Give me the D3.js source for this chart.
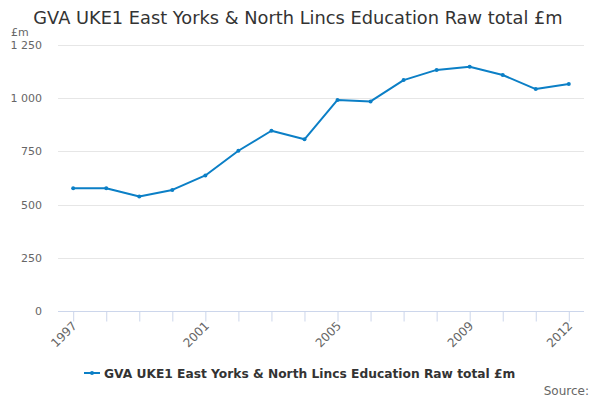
<!DOCTYPE html>
<html>
<head>
<meta charset="utf-8">
<script src="https://cdn.jsdelivr.net/npm/d3@7"></script>
<style>
  body { margin: 0; background: #fff; }
  svg { font-family: "DejaVu Sans", sans-serif; }
</style>
</head>
<body>
<div id="chart"></div>
<script>
// Data
const years = ["1997", "1998", "1999", "2000", "2001", "2002", "2003", "2004",
  "2005", "2006", "2007", "2008", "2009", "2010", "2011", "2012"];
const values = [577, 577, 538, 569, 637, 753, 847, 807,
  992, 985, 1085, 1133, 1148, 1109, 1043, 1067];
const yTicks = [0, 250, 500, 750, 1000, 1250];
const xLabels = ["1997", "2001", "2005", "2009", "2012"];
const seriesName = "GVA UKE1 East Yorks & North Lincs Education Raw total £m";

const width = 600, height = 400;
const colour = "#0b7fc6";

// SVG
const svg = d3.select("#chart")
  .append("svg")
  .attr("width", width)
  .attr("height", height);

// Scales
const x = d3.scalePoint()
  .domain(years)
  .range([58, 584])
  .padding(0.46);

const y = d3.scaleLinear()
  .domain([0, 1250])
  .range([311, 45]);

const fmt = v => d3.format(",")(v).replace(/,/g, " ");

// Title
svg.append("text")
  .attr("x", 298)
  .attr("y", 24)
  .attr("text-anchor", "middle")
  .attr("fill", "#333")
  .attr("font-size", 17.8)
  .text("GVA UKE1 East Yorks & North Lincs Education Raw total £m");

// Y unit label
svg.append("text")
  .attr("x", 11)
  .attr("y", 36)
  .attr("fill", "#666")
  .attr("font-size", 11)
  .text("£m");

// Gridlines
svg.append("g")
  .selectAll("line")
  .data(yTicks.filter(d => d > 0))
  .join("line")
  .attr("x1", 58)
  .attr("x2", 584)
  .attr("y1", d => Math.round(y(d)) + 0.5)
  .attr("y2", d => Math.round(y(d)) + 0.5)
  .attr("stroke", "#e6e6e6");

// Y axis labels
const yAxis = svg.append("g")
  .attr("transform", "translate(42,0)")
  .call(d3.axisLeft(y).tickValues(yTicks).tickFormat(fmt).tickSize(0).tickPadding(0));
yAxis.select(".domain").remove();
yAxis.selectAll("text")
  .attr("fill", "#666")
  .attr("font-size", 11)
  .attr("font-family", "DejaVu Sans, sans-serif");

// X axis
const xAxis = svg.append("g")
  .attr("transform", "translate(0,311.5)")
  .call(d3.axisBottom(x).tickSize(10).tickSizeOuter(0)
    .tickFormat(d => xLabels.includes(d) ? d : ""));
xAxis.select(".domain")
  .attr("stroke", "#ccd6eb")
  .attr("d", "M58,0H584");
xAxis.selectAll(".tick line").attr("stroke", "#ccd6eb");
xAxis.selectAll("text")
  .attr("fill", "#666")
  .attr("font-size", 12)
  .attr("font-family", "DejaVu Sans, sans-serif")
  .attr("text-anchor", "end")
  .attr("transform", "translate(1,12) rotate(-45)")
  .attr("dy", "0.35em")
  .attr("y", 0);

// Line
const line = d3.line()
  .x((d, i) => x(years[i]))
  .y(d => y(d));

svg.append("path")
  .datum(values)
  .attr("fill", "none")
  .attr("stroke", colour)
  .attr("stroke-width", 2)
  .attr("stroke-linejoin", "round")
  .attr("d", line);

svg.append("g")
  .selectAll("circle")
  .data(values)
  .join("circle")
  .attr("cx", (d, i) => x(years[i]))
  .attr("cy", d => y(d))
  .attr("r", 2)
  .attr("fill", colour);

// Legend
const legend = svg.append("g")
  .attr("transform", "translate(84,373)");
legend.append("line")
  .attr("x1", 0).attr("x2", 16)
  .attr("y1", 0).attr("y2", 0)
  .attr("stroke", colour)
  .attr("stroke-width", 2);
legend.append("circle")
  .attr("cx", 8).attr("cy", 0).attr("r", 2)
  .attr("fill", colour);
legend.append("text")
  .attr("x", 20)
  .attr("y", 4.5)
  .attr("fill", "#333")
  .attr("font-size", 12.25)
  .attr("font-weight", "bold")
  .text(seriesName);

// Source
svg.append("text")
  .attr("x", 589)
  .attr("y", 395)
  .attr("text-anchor", "end")
  .attr("fill", "#666")
  .attr("font-size", 12)
  .text("Source:");
</script>
</body>
</html>
